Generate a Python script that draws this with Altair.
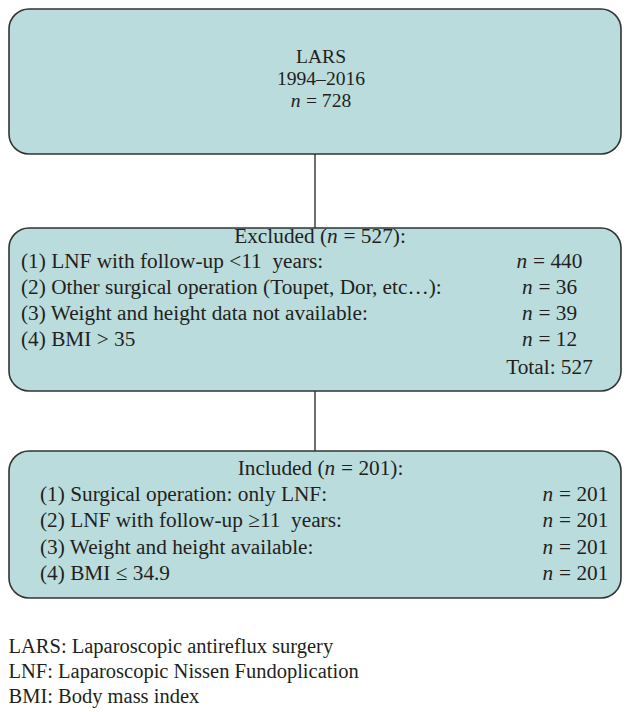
import altair as alt
import pandas as pd

# ---------------- data ----------------
top_lines = ["LARS", "1994\u20132016"]
top_n = 728

excluded_total = 527
excluded_labels = [
    "(1) LNF with follow-up <11\u2002years:",
    "(2) Other surgical operation (Toupet, Dor, etc\u2026):",
    "(3) Weight and height data not available:",
    "(4) BMI > 35",
]
excluded_n = [440, 36, 39, 12]

included_total = 201
included_labels = [
    "(1) Surgical operation: only LNF:",
    "(2) LNF with follow-up \u226511\u2002years:",
    "(3) Weight and height available:",
    "(4) BMI \u2264 34.9",
]
included_n = [201, 201, 201, 201]

footnotes = [
    "LARS: Laparoscopic antireflux surgery",
    "LNF: Laparoscopic Nissen Fundoplication",
    "BMI: Body mass index",
]

# ---------------- layout helpers ----------------
FONT = "Liberation Serif"
FS = 21.3
FS_TOP = 19.6
FS_NOTE = 20.5
INK = "#231f20"
NB = "\u00a0"

_w = {" ": 250, NB: 250, "=": 564, "(": 333, ")": 333, ":": 278, "E": 611, "x": 500,
      "c": 444, "l": 278, "u": 500, "d": 500, "e": 444, "I": 333, "n": 500,
      "T": 611, "o": 500, "t": 278, "a": 444}


def tw(s, fs=FS):
    return sum(_w.get(ch, 500) for ch in s) * fs / 1000.0


plain_left, plain_center, plain_right, ital = [], [], [], []


def n_expr(center, base, value, prefix="", suffix="", fs=FS):
    """Place 'prefix n = value suffix' centred at center with italic n."""
    rest = "=" + NB + str(value) + suffix
    gap = tw(" ", fs) + 0.5
    total = tw(prefix, fs) + tw("n", fs) + gap + tw(rest, fs)
    left = center - total / 2
    xn = left + tw(prefix, fs)
    if prefix:
        plain_right.append({"x": xn, "y": base, "t": prefix, "fs": fs})
    ital.append({"x": xn, "y": base, "t": "n", "fs": fs})
    plain_left.append({"x": xn + tw("n", fs) + gap, "y": base, "t": rest, "fs": fs})


# top box
top_cx = 321
top_base = [63, 85, 107]
for t, b in zip(top_lines, top_base):
    plain_center.append({"x": top_cx, "y": b, "t": t, "fs": FS_TOP})
n_expr(top_cx, top_base[2], top_n, fs=FS_TOP)

# excluded box
ex_base = [268, 294, 320, 346]
n_expr(320, 243, excluded_total, prefix="Excluded (", suffix="):")
for lab, v, b in zip(excluded_labels, excluded_n, ex_base):
    plain_left.append({"x": 21, "y": b, "t": lab, "fs": FS})
    n_expr(549.5, b, v)
plain_center.append({"x": 549.5, "y": 374, "t": "Total:" + NB + str(excluded_total), "fs": FS})

# included box
in_base = [501, 527, 554, 580]
n_expr(320.5, 475, included_total, prefix="Included (", suffix="):")
for lab, v, b in zip(included_labels, included_n, in_base):
    plain_left.append({"x": 40, "y": b, "t": lab, "fs": FS})
    n_expr(575.5, b, v)

notes = pd.DataFrame({"x": [8.5] * len(footnotes), "y": [653, 678, 703], "t": footnotes})

boxes = pd.DataFrame({
    "x": [9, 9, 9], "x2": [621, 621, 621],
    "y": [9, 228, 451], "y2": [154, 391, 598],
})
links = pd.DataFrame({"x": [315, 315], "y": [154, 391], "y2": [228, 451]})

# ---------------- chart ----------------
W, H = 614, 700
xs = alt.Scale(domain=[8, 8 + W], zero=False, nice=False)
ys = alt.Scale(domain=[8 + H, 8], zero=False, nice=False)
X = lambda f: alt.X(f, type="quantitative", scale=xs, axis=None)
Y = lambda f: alt.Y(f, type="quantitative", scale=ys, axis=None)

box_layer = alt.Chart(boxes).mark_rect(
    cornerRadius=20, fill="#badcdd", stroke="#333333", strokeWidth=1.6
).encode(x=X("x"), x2="x2", y=Y("y"), y2="y2")

link_layer = alt.Chart(links).mark_rule(color="#333333", strokeWidth=1.4).encode(
    x=X("x"), y=Y("y"), y2="y2"
)


def text_layer(rows, align, italic=False):
    df = pd.DataFrame(rows)
    return alt.Chart(df).mark_text(
        align=align, baseline="alphabetic", font=FONT,
        fontStyle="italic" if italic else "normal", color=INK
    ).encode(x=X("x"), y=Y("y"), text="t:N",
             size=alt.Size("fs:Q", scale=None, legend=None))


chart = alt.layer(
    box_layer,
    link_layer,
    text_layer(plain_left, "left"),
    text_layer(plain_center, "center"),
    text_layer(plain_right, "right"),
    text_layer(ital, "left", italic=True),
    alt.Chart(notes).mark_text(
        align="left", baseline="alphabetic", font=FONT, fontSize=FS_NOTE, color=INK
    ).encode(x=X("x"), y=Y("y"), text="t:N"),
).properties(
    width=W, height=H, padding=0, autosize=alt.AutoSizeParams(type="none"),
    background="white"
).configure_view(stroke=None)

chart.save("out.html", embed_options={"renderer": "svg", "actions": False})
